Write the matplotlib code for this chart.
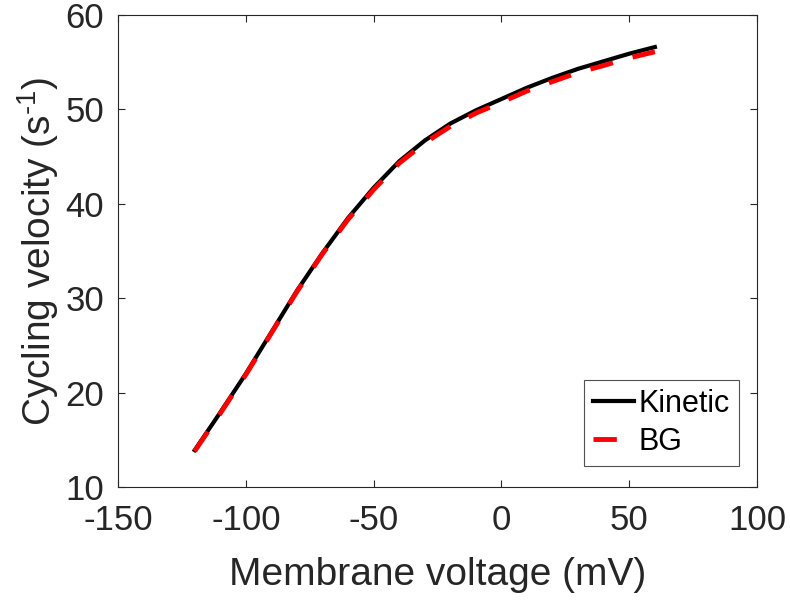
import numpy as np
import matplotlib.pyplot as plt

plt.rcParams['font.family'] = ['Liberation Sans', 'DejaVu Sans']
plt.rcParams['mathtext.fontset'] = 'custom'
plt.rcParams['mathtext.rm'] = 'Liberation Sans'
plt.rcParams['axes.unicode_minus'] = False

# values
voltage = [-120, -110, -100, -90, -80, -70, -60, -50, -40, -30, -20, -10, 0, 10, 20, 30, 40, 50, 60]
kinetic = [13.9, 17.9, 22.0, 26.4, 30.8, 34.8, 38.5, 41.7, 44.5, 46.7, 48.5, 49.9, 51.1, 52.3, 53.35, 54.3, 55.1, 55.9, 56.6]
bg = [13.8, 17.8, 21.9, 26.3, 30.7, 34.7, 38.35, 41.5, 44.3, 46.45, 48.2, 49.6, 50.75, 51.95, 52.95, 53.9, 54.65, 55.45, 56.1]

xticks = [-150, -100, -50, 0, 50, 100]
yticks = [10, 20, 30, 40, 50, 60]

grey = '#262626'

fig = plt.figure(figsize=(7.9, 6.01), dpi=100)
ax = fig.add_axes([0.1494, 0.1897, 0.809, 0.7854])

ax.plot(voltage, kinetic, color='black', lw=3.0, label='Kinetic')
ax.plot(voltage, bg, color='red', lw=3.5, ls=(0, (4.8, 4.2)), label='BG')

ax.set_xlim(-150, 100)
ax.set_ylim(10, 60)
ax.set_xticks(xticks)
ax.set_yticks(yticks)
ax.tick_params(direction='in', length=5, width=0.8, top=True, right=True,
               labelsize=25, colors=grey)
ax.tick_params(axis='x', pad=12)
ax.tick_params(axis='y', pad=10)
for s in ax.spines.values():
    s.set_color(grey)
    s.set_linewidth(0.8)

ax.set_xlabel('Membrane voltage (mV)', fontsize=28, color=grey, labelpad=15)
ax.set_ylabel(r'Cycling velocity (s$^{\mathregular{\text{-1}}}$)', fontsize=28, color=grey, labelpad=3)

leg = ax.legend(loc='lower right', fontsize=22, frameon=True, fancybox=False,
                handlelength=1.35, handletextpad=0.15, borderpad=0.3,
                labelspacing=0.25, borderaxespad=0,
                bbox_to_anchor=(0.972, 0.0445))
leg.get_frame().set_edgecolor(grey)
leg.get_frame().set_linewidth(0.8)

fig.savefig('out.png', dpi=100)
